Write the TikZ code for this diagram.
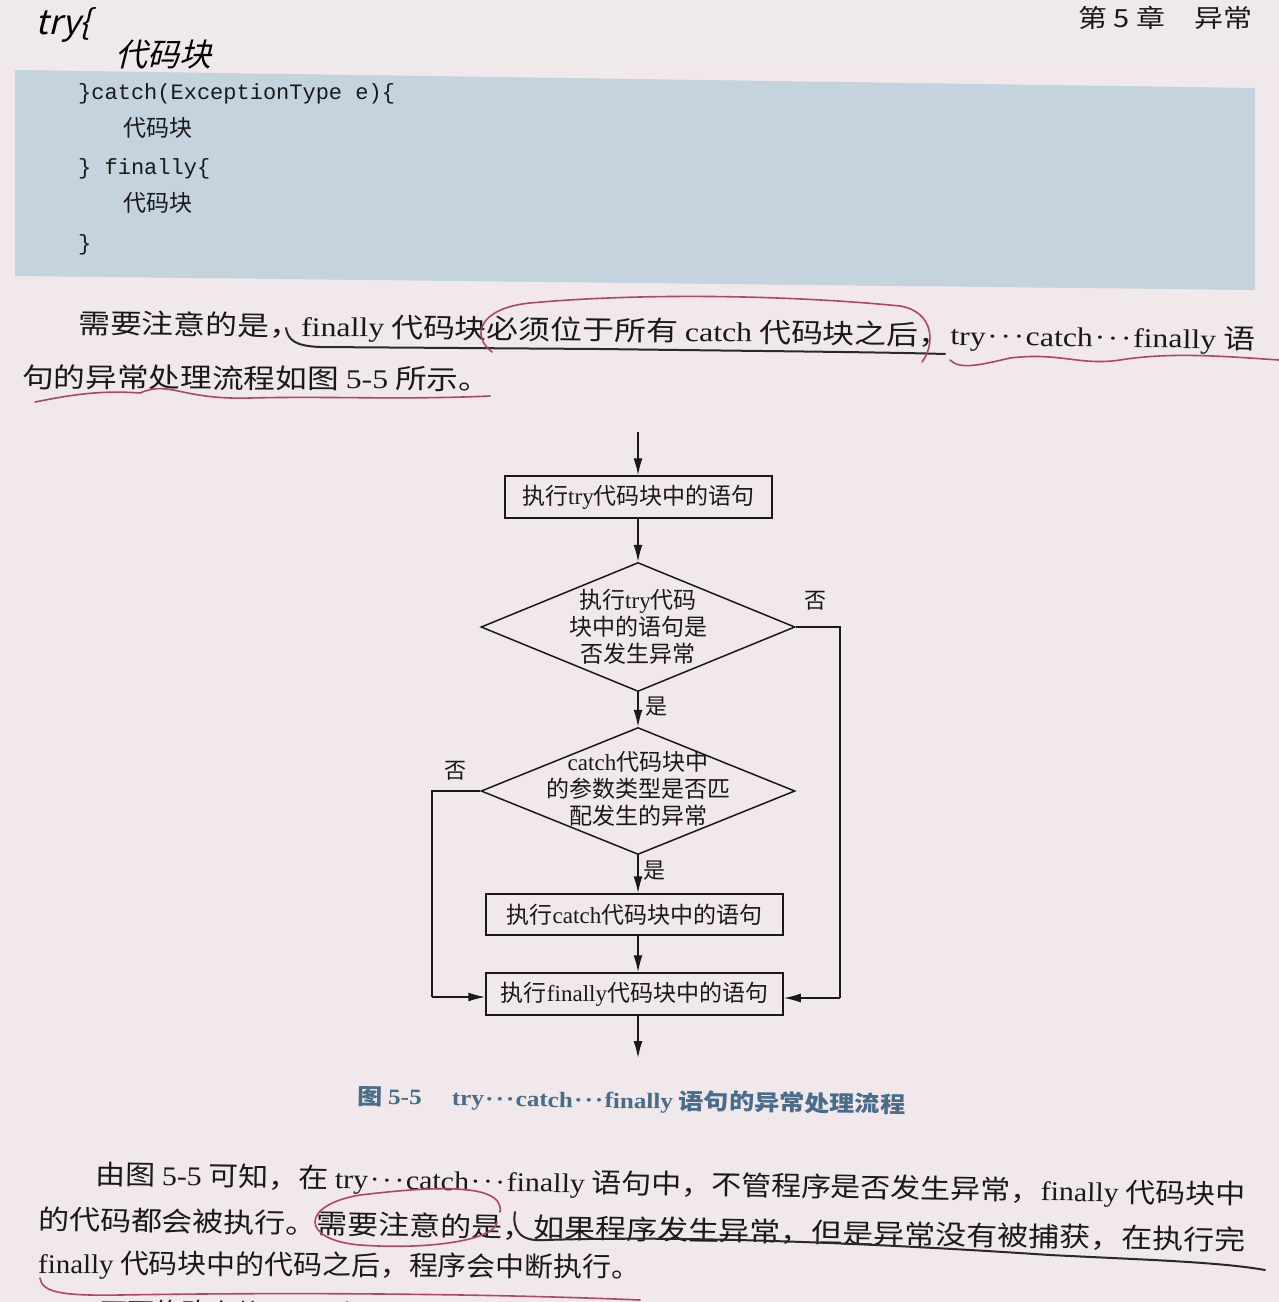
\documentclass[tikz,border=0pt]{standalone}
\usepackage{fontspec}
\usepackage{graphicx}
\usetikzlibrary{arrows.meta,shapes.geometric}
\setmainfont{Liberation Serif}
\setmonofont{Liberation Mono}
\newfontfamily\cjk{Noto Sans CJK SC}
\newfontfamily\hand{Noto Sans CJK SC}[FakeSlant=0.25]
\newcommand\zh[1]{{\cjk #1}}
\newcommand\dd{\kern0.05em\textperiodcentered\kern0.08em\textperiodcentered\kern0.08em\textperiodcentered\kern0.05em}
\newcommand\fitw[2]{\resizebox{#1}{\height}{#2}}
\definecolor{paper}{RGB}{240,232,234}
\definecolor{codebg}{RGB}{197,211,222}
\definecolor{capblue}{RGB}{72,108,138}
\definecolor{pen}{RGB}{176,70,100}
\definecolor{ink}{RGB}{40,40,45}
\definecolor{txt}{RGB}{25,25,25}
\begin{document}
\begin{tikzpicture}[x=1pt,y=-1pt,
  line/.style={line width=1.5pt,draw=txt},
  arr/.style={line width=1.5pt,draw=txt,-{Latex[length=17pt,width=9pt]}},
  procbox/.style={draw=txt,line width=1.5pt,rectangle,inner sep=0pt},
  decide/.style={draw=txt,line width=1.5pt,diamond,inner sep=0pt,minimum width=314pt,minimum height=129pt},
  flowtext/.style={font=\fontsize{23}{27}\selectfont,text=txt,align=center},
  lab/.style={font=\cjk\fontsize{22}{24}\selectfont,text=txt},
  body/.style={anchor=base west,inner sep=0pt,text=txt,font=\fontsize{27}{30}\selectfont},
  code/.style={anchor=base west,inner sep=0pt,text=txt,font=\ttfamily\fontsize{22}{24}\selectfont},
  penline/.style={draw=pen,line width=1.6pt,line cap=round},
  inkline/.style={draw=ink,line width=2pt,line cap=round}]
\useasboundingbox (0,0) rectangle (1279,1302);
\clip (0,0) rectangle (1279,1302);
\fill[paper] (0,0) rectangle (1279,1302);
\fill[paper!70!white!95!gray] (0,0) rectangle (1279,70);

% header
\node[body,font=\cjk\fontsize{25}{28}\selectfont] (hdr) at (1078,27) {\fitw{174pt}{第 5 章\hspace{1em}异常}};

% handwriting
\node[anchor=base west,inner sep=0pt,font=\hand\fontsize{34}{36}\selectfont] (hw1) at (35,34) {try\{};
\node[anchor=base west,inner sep=0pt,font=\hand\fontsize{32}{34}\selectfont] (hw2) at (115,66) {代码块};

% code box
\fill[codebg] (15,70) -- (1255,88) -- (1255,290) -- (15,276) -- cycle;
\node[code] (c1) at (78,99) {\}catch(ExceptionType e)\{};
\node[code,font=\cjk\fontsize{23}{25}\selectfont] (c2) at (123,136) {代码块};
\node[code] (c3) at (78,174) {\} finally\{};
\node[code,font=\cjk\fontsize{23}{25}\selectfont] (c4) at (123,211) {代码块};
\node[code] (c5) at (78,250) {\}};

% paragraph 1
\node[body,rotate=-0.78] (p1a) at (78,333) {\fitw{1177pt}{\zh{需要注意的是，}finally\zh{ 代码块必须位于所有 }catch\zh{ 代码块之后，}try\dd catch\dd finally\zh{ 语}}};
\node[body,rotate=-0.3] (p1b) at (22,387) {\fitw{468pt}{\zh{句的异常处理流程如图 }5-5\zh{ 所示。}}};

% flowchart
\node[procbox,minimum width=267pt,minimum height=42pt] (b1) at (638.5,497) {};
\node[flowtext] at (b1) {\zh{执行}try\zh{代码块中的语句}};
\node[decide] (d1) at (638,627) {};
\node[flowtext] at (638,627) {\zh{执行}try\zh{代码}\\\zh{块中的语句是}\\\zh{否发生异常}};
\node[decide,minimum height=127pt] (d2) at (638,791) {};
\node[flowtext] at (638,789) {catch\zh{代码块中}\\\zh{的参数类型是否匹}\\\zh{配发生的异常}};
\node[procbox,minimum width=297pt,minimum height=41pt] (b2) at (634.5,914.5) {};
\node[flowtext] at (b2) {\zh{执行}catch\zh{代码块中的语句}};
\node[procbox,minimum width=297pt,minimum height=42pt] (b3) at (634.5,994) {};
\node[flowtext] at (b3) {\zh{执行}finally\zh{代码块中的语句}};

\coordinate (start) at (638,432);
\coordinate (endp) at (638,1058);
\coordinate (rtop) at (840,627);
\coordinate (rbot) at (840,998);
\coordinate (ltop) at (432,791);
\coordinate (lbot) at (432,997);

\draw[arr] (start) -- (start |- b1.north);
\draw[arr] (b1.south -| d1.north) -- (d1.north);
\draw[arr] (d1.south) -- (d2.north);
\draw[arr] (d2.south) -- (d2.south |- b2.north);
\draw[arr] (b2.south -| d2.south) -- (d2.south |- b3.north);
\draw[arr] (b3.south -| d2.south) -- (endp);
\draw[line] (d1.east) -- (rtop) -- (rbot);
\draw[arr] (rbot) -- (rbot -| b3.east);
\draw[line] (d2.west) -- (ltop) -- (lbot);
\draw[arr] (lbot) -- (lbot -| b3.west);

\node[lab] (no1) at (815,601) {否};
\node[lab] (yes1) at (656,707) {是};
\node[lab] (no2) at (455,771) {否};
\node[lab] (yes2) at (654,871) {是};

% caption
\node[body,text=capblue,font=\bfseries\fontsize{22}{24}\selectfont,rotate=-0.9] (cap) at (357,1104) {\fitw{548pt}{\zh{图 }5-5\hspace{1.2em}try\dd catch\dd finally\zh{ 语句的异常处理流程}}};

% paragraph 3
\node[body,rotate=-1.0] (p3a) at (95,1184) {\fitw{1150pt}{\zh{由图 }5-5\zh{ 可知，在 }try\dd catch\dd finally\zh{ 语句中，不管程序是否发生异常，}finally\zh{ 代码块中}}};
\node[body,rotate=-1.0] (p3b) at (38,1229) {\fitw{1207pt}{\zh{的代码都会被执行。需要注意的是，如果程序发生异常，但是异常没有被捕获，在执行完}}};
\node[body,rotate=-0.4] (p3c) at (38,1273) {\fitw{602pt}{finally\zh{ 代码块中的代码之后，程序会中断执行。}}};
\node[body,rotate=-0.6] (p3d) at (100,1322) {\zh{下面修改文件 }5-8\zh{，演示 }try\dd catch\dd finally\zh{ 语句}};

% pen marks, paragraph 1
\draw[inkline] (286,328) .. controls (288,340) and (295,346) .. (320,347) -- (600,349) .. controls (750,351) and (880,352) .. (945,354);
\draw[penline] (492,352) .. controls (470,335) and (480,308) .. (530,303) .. controls (650,292) and (800,296) .. (900,306) .. controls (935,312) and (935,345) .. (922,362);
\draw[penline] (950,360) .. controls (960,370) and (980,365) .. (1010,358) .. controls (1060,352) and (1080,366) .. (1120,360) .. controls (1170,352) and (1220,356) .. (1279,360);
\draw[penline] (35,402) .. controls (70,395) and (100,390) .. (140,393) .. controls (170,380) and (180,400) .. (250,398) .. controls (330,396) and (400,400) .. (490,396);

% pen marks, paragraph 3
\draw[penline] (500,1212) .. controls (505,1180) and (420,1188) .. (360,1195) .. controls (300,1205) and (300,1240) .. (360,1245) .. controls (430,1250) and (495,1240) .. (497,1222);
\draw[inkline] (515,1212) .. controls (512,1230) and (520,1242) .. (545,1240) .. controls (700,1235) and (900,1245) .. (1050,1255) .. controls (1150,1260) and (1220,1262) .. (1265,1270);
\draw[penline] (40,1278) .. controls (42,1292) and (60,1296) .. (120,1295) .. controls (300,1292) and (500,1294) .. (640,1300);
\end{tikzpicture}
\end{document}
